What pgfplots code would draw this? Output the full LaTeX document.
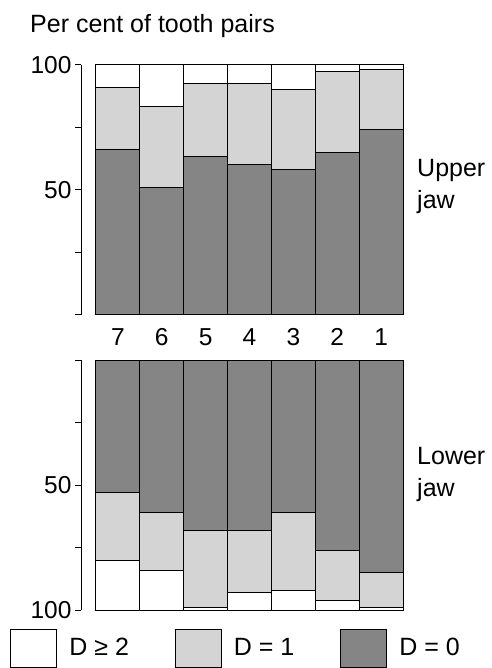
\documentclass[border=0pt]{standalone}
\usepackage{fontspec}
\setmainfont{Liberation Sans}
\usepackage{pgfplots}
\pgfplotsset{compat=1.18}

\definecolor{dfill}{gray}{0.52}
\definecolor{lfill}{gray}{0.83}

\pgfplotsset{
  jaw/.style={
    scale only axis, width=322bp, height=250bp,
    ybar stacked, bar width=1,
    xmin=-0.84, xmax=6.5, ymin=0, ymax=100,
    axis y line=left, axis line style={-, line width=1bp},
    ytick={0,25,50,75,100}, yticklabels={,,50,,100},
    tick align=outside, major tick length=6bp,
    tick style={black, line width=1bp},
    /pgf/number format/assume math mode=true,
    tick label style={font=\fontsize{24.5bp}{28bp}\selectfont},
    clip=false,
    every axis plot/.append style={draw=black, line width=1bp},
  },
  bigbox/.style={legend image code/.code={\draw[##1] (0bp,-19bp) rectangle (46bp,19bp);}},
}

\begin{document}
\begin{tikzpicture}
\useasboundingbox (0,0) rectangle (492bp,668bp);

% upper jaw
\begin{axis}[jaw, at={(81bp,353bp)}, anchor=south west,
  axis x line=bottom, x axis line style={draw=none},
  xtick={0,...,6}, xticklabels={7,6,5,4,3,2,1}, xtick style={draw=none},
  xticklabel style={yshift=-7bp}]
\addplot[fill=dfill] coordinates {(0,66) (1,51) (2,63.5) (3,60) (4,58) (5,65) (6,74)};
\addplot[fill=lfill] coordinates {(0,25) (1,32.5) (2,29) (3,32.5) (4,32) (5,32.5) (6,24)};
\addplot[fill=white] coordinates {(0,9) (1,16.5) (2,7.5) (3,7.5) (4,10) (5,2.5) (6,2)};
\end{axis}

% lower jaw (scale runs downwards)
\begin{axis}[jaw, at={(81bp,58bp)}, anchor=south west, y dir=reverse,
  axis x line=none, xtick=\empty,
  legend columns=3, reverse legend,
  legend style={draw=none, fill=none, at={(-0.22,-0.152)}, anchor=west,
    inner sep=0pt, font=\fontsize{25bp}{30bp}\selectfont,
    /tikz/every odd column/.append style={column sep=10bp},
    /tikz/every even column/.append style={column sep=44bp}}]
\addplot[fill=dfill, bigbox] coordinates {(0,53) (1,61) (2,68) (3,68) (4,61) (5,76) (6,85)};
\addplot[fill=lfill, bigbox] coordinates {(0,27) (1,23) (2,31) (3,25) (4,31) (5,20) (6,14)};
\addplot[fill=white, bigbox] coordinates {(0,20) (1,16) (2,1) (3,7) (4,8) (5,4) (6,1)};
\addlegendentry{D = 0}
\addlegendentry{D = 1}
\addlegendentry{D ≥ 2}
\end{axis}

\begin{scope}[every node/.style={anchor=base west, inner sep=0pt, font=\fontsize{25bp}{30bp}\selectfont}]
\node at (30bp,635bp) {Per cent of tooth pairs};
\node at (417bp,491bp) {Upper};
\node at (417bp,459bp) {jaw};
\node at (417bp,203bp) {Lower};
\node at (417bp,171bp) {jaw};
\end{scope}
\end{tikzpicture}
\end{document}
